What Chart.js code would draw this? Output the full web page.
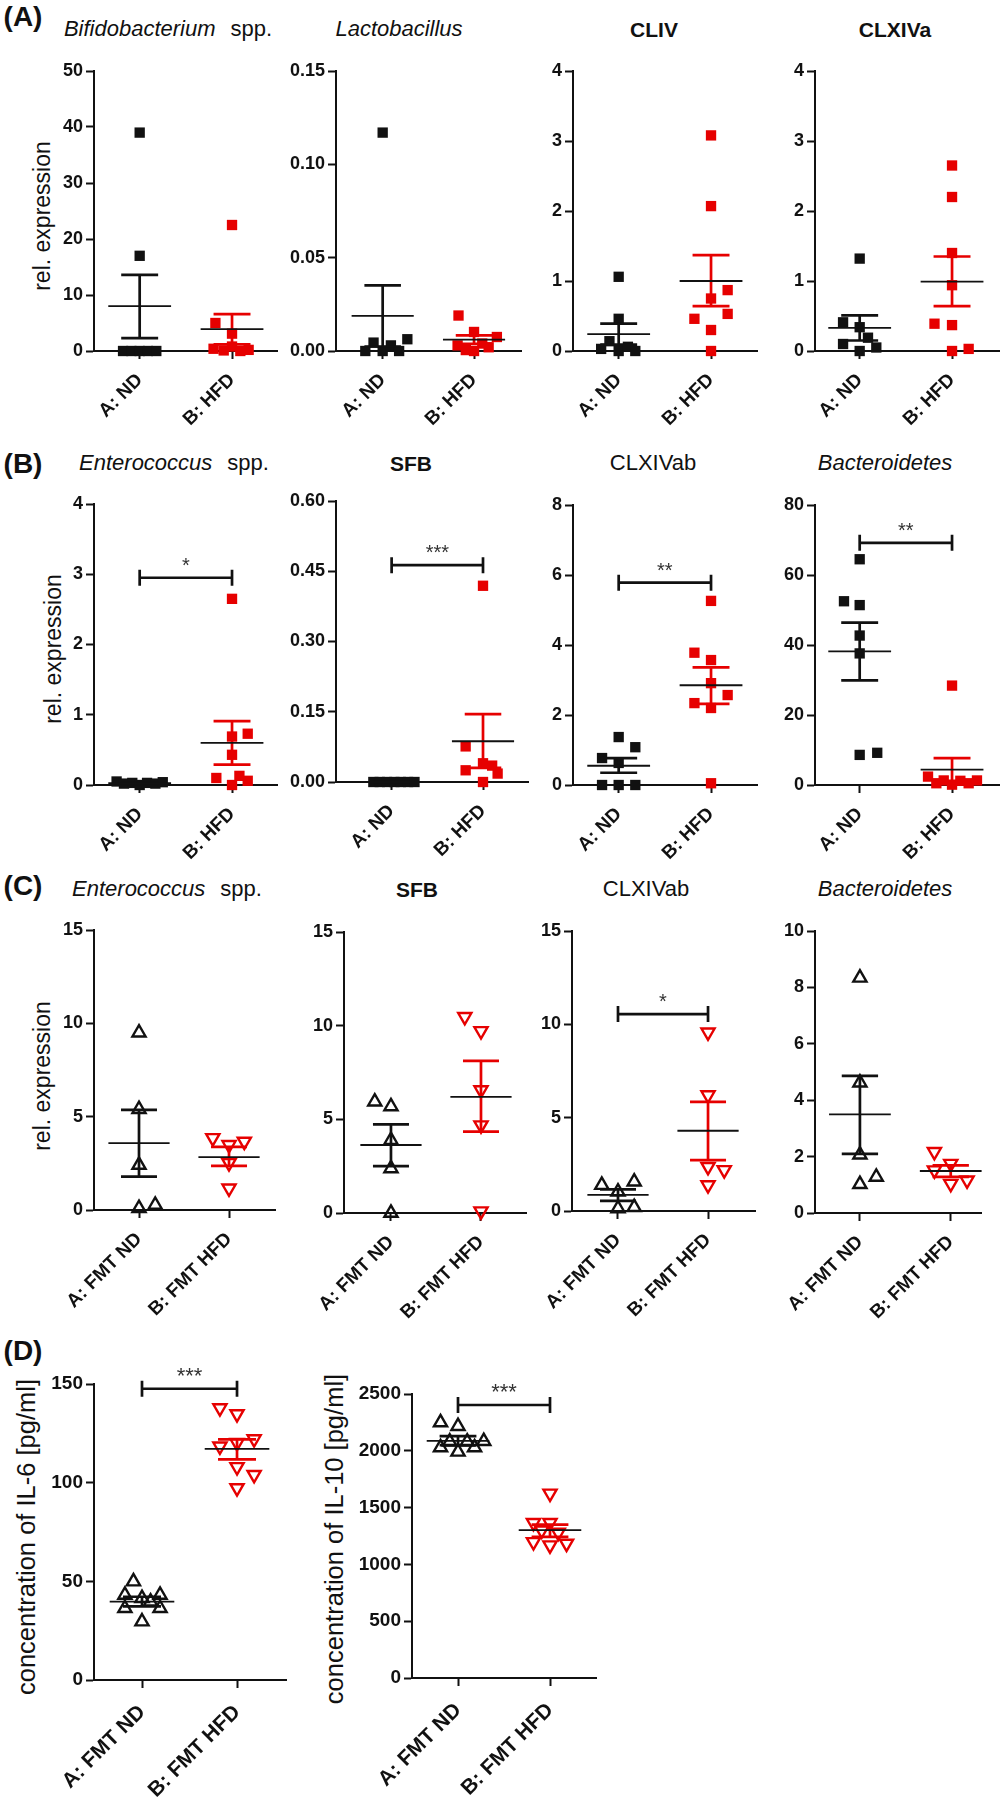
<!DOCTYPE html>
<html>
<head>
<meta charset="utf-8">
<script src="https://cdn.jsdelivr.net/npm/chart.js@4.4.1/dist/chart.umd.min.js"></script>
<style>
  body { margin: 0; background: #fff; }
  #fig { position: relative; width: 1004px; height: 1800px; overflow: hidden;
         font-family: "Liberation Sans", Arial, sans-serif; color: #111; }
  #fig canvas { position: absolute; }
  .lbl { position: absolute; transform: translate(-50%, -50%); white-space: nowrap; line-height: 1; }
  .ytl { position: absolute; transform: translate(-50%, -50%) rotate(-90deg); white-space: nowrap;
         line-height: 1; font-size: 23px; }
  .ytl.big { font-size: 25.5px; }
  .panel { font-size: 28px; font-weight: bold; }
  .ttl { font-size: 22px; }
  .ttl.b { font-size: 21px; font-weight: bold; }
  .spp { margin-left: 15px; }
</style>
</head>
<body>
<div id="fig">
  <div class="lbl panel" style="left:23px;top:17px">(A)</div>
  <div class="lbl panel" style="left:23px;top:464px">(B)</div>
  <div class="lbl panel" style="left:23px;top:886px">(C)</div>
  <div class="lbl panel" style="left:23px;top:1351px">(D)</div>

  <div class="lbl ttl" style="left:168px;top:29px"><i>Bifidobacterium</i><span class="spp">spp.</span></div>
  <div class="lbl ttl" style="left:399px;top:29px"><i>Lactobacillus</i></div>
  <div class="lbl ttl b" style="left:654px;top:29px">CLIV</div>
  <div class="lbl ttl b" style="left:895px;top:29px">CLXIVa</div>

  <div class="lbl ttl" style="left:174px;top:463px"><i>Enterococcus</i><span class="spp">spp.</span></div>
  <div class="lbl ttl b" style="left:411px;top:463px">SFB</div>
  <div class="lbl ttl" style="left:653px;top:463px">CLXIVab</div>
  <div class="lbl ttl" style="left:885px;top:463px"><i>Bacteroidetes</i></div>

  <div class="lbl ttl" style="left:167px;top:889px"><i>Enterococcus</i><span class="spp">spp.</span></div>
  <div class="lbl ttl b" style="left:417px;top:889px">SFB</div>
  <div class="lbl ttl" style="left:646px;top:889px">CLXIVab</div>
  <div class="lbl ttl" style="left:885px;top:889px"><i>Bacteroidetes</i></div>

  <div class="ytl" style="left:42px;top:216px">rel. expression</div>
  <div class="ytl" style="left:53px;top:649px">rel. expression</div>
  <div class="ytl" style="left:42px;top:1076px">rel. expression</div>
  <div class="ytl big" style="left:27px;top:1537px">concentration of IL-6 [pg/ml]</div>
  <div class="ytl big" style="left:335px;top:1539px">concentration of IL-10 [pg/ml]</div>
</div>

<script>
/* ---------- group labels ---------- */
const dietGroups = ["A: ND", "B: HFD"];
const fmtGroups = ["A: FMT ND", "B: FMT HFD"];

/* ---------- (A) ---------- */
const bifidoND = [39, 17, 0, 0, 0, 0, 0];
const bifidoNDx = [0, 0, -0.18, -0.09, 0, 0.09, 0.18];
const bifidoHFD = [22.5, 5, 3.1, 0.8, 0.4, 0.2, 0.1, 0];
const bifidoHFDx = [0, -0.18, 0, 0, -0.2, 0.18, -0.09, 0.09];
const bifidoMean = [8.0, 3.9];
const bifidoHi = [13.6, 6.6];
const bifidoLo = [2.3, 1.2];
const bifidoTicks = ["0", "10", "20", "30", "40", "50"];

const lactoND = [0.117, 0.0045, 0, 0, 0.003, 0, 0.0063];
const lactoNDx = [0, -0.1, -0.19, 0, 0.09, 0.18, 0.27];
const lactoHFD = [0.019, 0.0102, 0.0075, 0.004, 0.003, 0.002, 0.0005, 0];
const lactoHFDx = [-0.17, 0, 0.25, 0.09, -0.18, 0.16, -0.09, 0];
const lactoMean = [0.0188, 0.0061];
const lactoHi = [0.0352, 0.0084];
const lactoLo = [0.0024, 0.0038];
const lactoTicks = ["0.00", "0.05", "0.10", "0.15"];

const clivND = [1.06, 0.46, 0.14, 0.03, 0, 0.06, 0];
const clivNDx = [0, 0, -0.1, -0.19, 0, 0.1, 0.18];
const clivHFD = [3.08, 2.07, 0.87, 0.75, 0.53, 0.46, 0.3, 0];
const clivHFDx = [0, 0, 0.18, 0, 0.18, -0.18, 0, 0];
const clivMean = [0.24, 1.0];
const clivHi = [0.39, 1.37];
const clivLo = [0.09, 0.64];
const clivTicks = ["0", "1", "2", "3", "4"];

const clxivaND = [1.32, 0.41, 0.34, 0.19, 0.1, 0.05, 0];
const clxivaNDx = [0, -0.18, 0, 0.09, -0.18, 0.18, 0];
const clxivaHFD = [2.65, 2.2, 1.4, 0.94, 0.39, 0.37, 0, 0.03];
const clxivaHFDx = [0, 0, 0, 0, -0.19, 0, 0, 0.18];
const clxivaMean = [0.33, 0.99];
const clxivaHi = [0.51, 1.35];
const clxivaLo = [0.15, 0.64];
const clxivaTicks = ["0", "1", "2", "3", "4"];

/* ---------- (B) ---------- */
const enteroBND = [0.05, 0.02, 0.03, 0, 0.03, 0.02, 0.04];
const enteroBNDx = [-0.25, -0.17, -0.08, 0, 0.08, 0.17, 0.25];
const enteroBHFD = [2.65, 0.73, 0.69, 0.43, 0.13, 0.1, 0.06, 0];
const enteroBHFDx = [0, 0.17, 0, 0, 0.08, -0.17, 0.17, 0];
const enteroBMean = [0.025, 0.6];
const enteroBHi = [0.035, 0.91];
const enteroBLo = [0.015, 0.29];
const enteroBTicks = ["0", "1", "2", "3", "4"];
const enteroBSig = [2.95, "*"];

const sfbBND = [0, 0, 0, 0, 0, 0, 0];
const sfbBNDx = [-0.2, -0.13, -0.05, 0.03, 0.1, 0.18, 0.25];
const sfbBHFD = [0.419, 0.076, 0.04, 0.035, 0.025, 0.018, 0];
const sfbBHFDx = [0, -0.19, 0, 0.1, -0.19, 0.16, 0];
const sfbBMean = [0, 0.087];
const sfbBHi = [0, 0.145];
const sfbBLo = [0, 0.03];
const sfbBTicks = ["0.00", "0.15", "0.30", "0.45", "0.60"];
const sfbBSig = [0.463, "***"];

const clxivabBND = [1.37, 1.08, 0.77, 0.63, 0, 0, 0];
const clxivabBNDx = [0, 0.18, -0.18, 0, -0.18, 0, 0.18];
const clxivabBHFD = [5.26, 3.78, 3.57, 2.91, 2.57, 2.34, 2.2, 0.05];
const clxivabBHFDx = [0, -0.18, 0, 0, 0.18, -0.18, 0, 0];
const clxivabBMean = [0.55, 2.85];
const clxivabBHi = [0.77, 3.36];
const clxivabBLo = [0.35, 2.32];
const clxivabBTicks = ["0", "2", "4", "6", "8"];
const clxivabBSig = [5.78, "**"];

const bactBND = [64.5, 52.5, 51.4, 42.7, 37.6, 8.6, 9.2];
const bactBNDx = [0, -0.17, 0, 0, 0, 0, 0.19];
const bactBHFD = [28.4, 2.4, 0.5, 1.3, 0.1, 1.2, 0.5, 1.3];
const bactBHFDx = [0, -0.26, -0.17, -0.09, 0, 0.09, 0.18, 0.27];
const bactBMean = [38.2, 4.4];
const bactBHi = [46.4, 7.7];
const bactBLo = [29.9, 1.0];
const bactBTicks = ["0", "20", "40", "60", "80"];
const bactBSig = [69.2, "**"];

/* ---------- (C) ---------- */
const enteroCND = [9.5, 5.4, 2.41, 0.1, 0.27];
const enteroCNDx = [0, 0, 0, 0, 0.18];
const enteroCHFD = [3.86, 3.67, 3.49, 2.52, 1.16];
const enteroCHFDx = [-0.18, 0.17, 0, 0, 0];
const enteroCMean = [3.58, 2.83];
const enteroCHi = [5.36, 3.38];
const enteroCLo = [1.79, 2.36];
const enteroCTicks = ["0", "5", "10", "15"];

const sfbCND = [5.94, 5.69, 3.89, 2.38, 0];
const sfbCNDx = [-0.18, 0, 0, 0, 0];
const sfbCHFD = [10.47, 9.72, 6.56, 4.69, 0.1];
const sfbCHFDx = [-0.18, 0, 0, 0, 0];
const sfbCMean = [3.63, 6.2];
const sfbCHi = [4.73, 8.12];
const sfbCLo = [2.5, 4.34];
const sfbCTicks = ["0", "5", "10", "15"];

const clxivabCND = [1.39, 1.57, 1.03, 0.14, 0.2];
const clxivabCNDx = [-0.18, 0.18, 0, 0, 0.18];
const clxivabCHFD = [9.57, 6.21, 2.37, 2.2, 1.39];
const clxivabCHFDx = [0, 0, 0, 0.18, 0];
const clxivabCMean = [0.86, 4.3];
const clxivabCHi = [1.16, 5.85];
const clxivabCLo = [0.54, 2.73];
const clxivabCTicks = ["0", "5", "10", "15"];
const clxivabCSig = [10.55, "*"];

const bactCND = [8.34, 4.62, 2.07, 1.02, 1.28];
const bactCNDx = [0, 0, 0, 0, 0.18];
const bactCHFD = [2.17, 1.75, 1.52, 1.04, 1.16];
const bactCHFDx = [-0.18, 0, -0.18, 0, 0.18];
const bactCMean = [3.5, 1.49];
const bactCHi = [4.86, 1.69];
const bactCLo = [2.1, 1.28];
const bactCTicks = ["0", "2", "4", "6", "8", "10"];

/* ---------- (D) ---------- */
const il6ND = [49.9, 43.1, 43.1, 41.4, 39.7, 36.4, 36.4, 29.6];
const il6NDx = [-0.09, -0.18, 0.19, 0, 0.09, -0.18, 0.19, 0];
const il6HFD = [137.8, 134.8, 122.1, 120.2, 118.4, 108, 104, 97.3];
const il6HFDx = [-0.18, 0, 0.18, 0, -0.18, 0, 0.18, 0];
const il6Mean = [39.7, 117.1];
const il6Hi = [42.2, 121.9];
const il6Lo = [37.3, 111.8];
const il6Ticks = ["0", "50", "100", "150"];
const il6Sig = [147.6, "***"];

const il10ND = [2249, 2217, 2085, 2080, 2080, 2030, 2030, 1991];
const il10NDx = [-0.19, 0, 0.28, -0.09, 0.1, -0.19, 0.18, 0];
const il10HFD = [1625, 1366, 1366, 1300, 1280, 1198, 1169, 1184];
const il10HFDx = [0, -0.18, 0, -0.09, 0.09, -0.18, 0, 0.18];
const il10Mean = [2088, 1301];
const il10Hi = [2130, 1351];
const il10Lo = [2050, 1242];
const il10Ticks = ["0", "500", "1000", "1500", "2000", "2500"];
const il10Sig = [2403, "***"];

/* ---------- look ---------- */
const BLK = "#111111";
const RED = "#e60000";
const FONT = '"Liberation Sans", Arial, sans-serif';
const YW = 100, PAD_T = 40, PAD_R = 6;
const MEAN_HALF = 0.34, CAP_HALF = 0.2;

Chart.defaults.font.family = FONT;
Chart.defaults.color = BLK;

/* where each plot sits on the page (pixel of y axis, end of x axis,
   top and zero of y axis, centre of both groups) */
const charts = [
  { groups: dietGroups, nd: bifidoND, ndx: bifidoNDx, hfd: bifidoHFD, hfdx: bifidoHFDx, mean: bifidoMean, hi: bifidoHi, lo: bifidoLo, ticks: bifidoTicks,
    box: [94, 279, 71, 351, 140, 233] },
  { groups: dietGroups, nd: lactoND, ndx: lactoNDx, hfd: lactoHFD, hfdx: lactoHFDx, mean: lactoMean, hi: lactoHi, lo: lactoLo, ticks: lactoTicks,
    box: [336, 523, 71, 351, 383, 475] },
  { groups: dietGroups, nd: clivND, ndx: clivNDx, hfd: clivHFD, hfdx: clivHFDx, mean: clivMean, hi: clivHi, lo: clivLo, ticks: clivTicks,
    box: [573, 759, 71, 351, 619, 712] },
  { groups: dietGroups, nd: clxivaND, ndx: clxivaNDx, hfd: clxivaHFD, hfdx: clxivaHFDx, mean: clxivaMean, hi: clxivaHi, lo: clxivaLo, ticks: clxivaTicks,
    box: [815, 1001, 71, 351, 860, 953] },

  { groups: dietGroups, nd: enteroBND, ndx: enteroBNDx, hfd: enteroBHFD, hfdx: enteroBHFDx, mean: enteroBMean, hi: enteroBHi, lo: enteroBLo, ticks: enteroBTicks, sig: enteroBSig,
    box: [94, 279, 504, 785, 140, 233] },
  { groups: dietGroups, nd: sfbBND, ndx: sfbBNDx, hfd: sfbBHFD, hfdx: sfbBHFDx, mean: sfbBMean, hi: sfbBHi, lo: sfbBLo, ticks: sfbBTicks, sig: sfbBSig,
    box: [336, 530, 501, 782, 392, 484] },
  { groups: dietGroups, nd: clxivabBND, ndx: clxivabBNDx, hfd: clxivabBHFD, hfdx: clxivabBHFDx, mean: clxivabBMean, hi: clxivabBHi, lo: clxivabBLo, ticks: clxivabBTicks, sig: clxivabBSig,
    box: [573, 759, 505, 785, 619, 712] },
  { groups: dietGroups, nd: bactBND, ndx: bactBNDx, hfd: bactBHFD, hfdx: bactBHFDx, mean: bactBMean, hi: bactBHi, lo: bactBLo, ticks: bactBTicks, sig: bactBSig,
    box: [815, 1001, 505, 785, 860, 953] },

  { groups: fmtGroups, tri: true, nd: enteroCND, ndx: enteroCNDx, hfd: enteroCHFD, hfdx: enteroCHFDx, mean: enteroCMean, hi: enteroCHi, lo: enteroCLo, ticks: enteroCTicks,
    box: [94, 279, 930, 1210, 140, 232] },
  { groups: fmtGroups, tri: true, nd: sfbCND, ndx: sfbCNDx, hfd: sfbCHFD, hfdx: sfbCHFDx, mean: sfbCMean, hi: sfbCHi, lo: sfbCLo, ticks: sfbCTicks,
    box: [344, 530, 932, 1213, 392, 484] },
  { groups: fmtGroups, tri: true, nd: clxivabCND, ndx: clxivabCNDx, hfd: clxivabCHFD, hfdx: clxivabCHFDx, mean: clxivabCMean, hi: clxivabCHi, lo: clxivabCLo, ticks: clxivabCTicks, sig: clxivabCSig,
    box: [572, 759, 931, 1211, 619, 711] },
  { groups: fmtGroups, tri: true, nd: bactCND, ndx: bactCNDx, hfd: bactCHFD, hfdx: bactCHFDx, mean: bactCMean, hi: bactCHi, lo: bactCLo, ticks: bactCTicks,
    box: [815, 985, 931, 1213, 861, 954] },

  { groups: fmtGroups, tri: true, big: true, nd: il6ND, ndx: il6NDx, hfd: il6HFD, hfdx: il6HFDx, mean: il6Mean, hi: il6Hi, lo: il6Lo, ticks: il6Ticks, sig: il6Sig,
    box: [94, 290, 1384, 1680, 143, 240] },
  { groups: fmtGroups, tri: true, big: true, nd: il10ND, ndx: il10NDx, hfd: il10HFD, hfdx: il10HFDx, mean: il10Mean, hi: il10Hi, lo: il10Lo, ticks: il10Ticks, sig: il10Sig,
    box: [412, 600, 1394, 1678, 459, 553] },
];

/* significance bracket + stars, placed through the chart scales */
const bracketPlugin = {
  id: "bracket",
  afterDatasetsDraw(chart, args, opts) {
    if (!opts.sig) return;
    const { ctx } = chart;
    const xs = chart.scales.x, ys = chart.scales.y;
    const x0 = xs.getPixelForValue(0), x1 = xs.getPixelForValue(1);
    const yp = ys.getPixelForValue(opts.sig[0]);
    ctx.save();
    ctx.strokeStyle = BLK;
    ctx.lineWidth = 2.7;
    ctx.beginPath();
    ctx.moveTo(x0, yp); ctx.lineTo(x1, yp);
    ctx.moveTo(x0, yp - 8); ctx.lineTo(x0, yp + 8);
    ctx.moveTo(x1, yp - 8); ctx.lineTo(x1, yp + 8);
    ctx.stroke();
    ctx.fillStyle = "#333";
    ctx.font = (opts.big ? 22 : 20) + "px " + FONT;
    ctx.textAlign = "center";
    ctx.textBaseline = "alphabetic";
    ctx.fillText(opts.sig[1], (x0 + x1) / 2, yp - 6);
    ctx.restore();
  },
};

function points(vals, offs, g) {
  return vals.map((v, i) => ({ x: g + offs[i], y: v }));
}

function meanLines(mean) {
  return [
    { x: -MEAN_HALF, y: mean[0] }, { x: MEAN_HALF, y: mean[0] }, { x: 0.5, y: null },
    { x: 1 - MEAN_HALF, y: mean[1] }, { x: 1 + MEAN_HALF, y: mean[1] },
  ];
}

function semBars(g, hi, lo) {
  return [
    { x: g - CAP_HALF, y: hi[g] }, { x: g + CAP_HALF, y: hi[g] }, { x: g, y: null },
    { x: g, y: hi[g] }, { x: g, y: lo[g] }, { x: g, y: null },
    { x: g - CAP_HALF, y: lo[g] }, { x: g + CAP_HALF, y: lo[g] },
  ];
}

function lineSet(data, color, width, order) {
  return { type: "scatter", data, showLine: true, spanGaps: false, borderColor: color, borderWidth: width,
           pointRadius: 0, tension: 0, clip: false, order };
}

function markerSet(data, color, c, flip) {
  const base = { type: "scatter", data, clip: false, order: 2 };
  if (c.tri) {
    return Object.assign(base, { pointStyle: "triangle", pointRadius: 7.6, pointRotation: flip ? 180 : 0,
      pointBackgroundColor: "rgba(0,0,0,0)", pointBorderColor: color, pointBorderWidth: 2.4 });
  }
  return Object.assign(base, { pointStyle: "rect", pointRadius: 7.3, pointBackgroundColor: color,
    pointBorderColor: color, pointBorderWidth: 0 });
}

const fig = document.getElementById("fig");

charts.forEach((c) => {
  const [axisX, right, top, zero, ndPx, hfdPx] = c.box;
  const xh = c.big ? 150 : 110;
  const plotW = right - axisX, plotH = zero - top;
  const cv = document.createElement("canvas");
  cv.width = YW + plotW + PAD_R;
  cv.height = PAD_T + plotH + xh;
  cv.style.left = (axisX - YW) + "px";
  cv.style.top = (top - PAD_T) + "px";
  fig.appendChild(cv);

  const unit = hfdPx - ndPx;
  const xMin = -(ndPx - axisX) / unit;
  const xMax = (right - ndPx) / unit;
  const tickVals = c.ticks.map(Number);
  const tickSize = c.big ? 19 : 18;
  const labSize = c.big ? 21 : 19;

  new Chart(cv, {
    type: "scatter",
    data: {
      datasets: [
        lineSet(meanLines(c.mean), BLK, 1.8, 0),
        lineSet(semBars(0, c.hi, c.lo), BLK, 2.7, 1),
        lineSet(semBars(1, c.hi, c.lo), RED, 2.7, 1),
        markerSet(points(c.nd, c.ndx, 0), BLK, c, false),
        markerSet(points(c.hfd, c.hfdx, 1), RED, c, true),
      ],
    },
    options: {
      responsive: false,
      devicePixelRatio: 1,
      animation: false,
      events: [],
      layout: { padding: { top: PAD_T, right: PAD_R, left: 0, bottom: 0 } },
      plugins: {
        legend: { display: false },
        tooltip: { enabled: false },
        bracket: { sig: c.sig, big: c.big },
      },
      scales: {
        x: {
          type: "linear",
          min: xMin,
          max: xMax,
          afterBuildTicks: (s) => { s.ticks = [{ value: 0 }, { value: 1 }]; },
          afterFit: (s) => { s.height = xh; s.paddingLeft = 0; s.paddingRight = 0; },
          ticks: {
            autoSkip: false, minRotation: 45, maxRotation: 45, padding: c.big ? 12 : 10,
            color: BLK, font: { size: labSize, weight: "bold" },
            callback: (v) => c.groups[v],
          },
          grid: { drawOnChartArea: false, drawTicks: true, tickLength: 8, tickWidth: 2, color: BLK },
          border: { display: true, color: BLK, width: 2 },
        },
        y: {
          type: "linear",
          min: 0,
          max: tickVals[tickVals.length - 1],
          afterBuildTicks: (s) => { s.ticks = tickVals.map((v) => ({ value: v })); },
          afterFit: (s) => { s.width = YW; s.paddingTop = 0; s.paddingBottom = 0; },
          ticks: {
            padding: 3, color: BLK, font: { size: tickSize, weight: "bold" },
            callback: (v, i) => c.ticks[i],
          },
          grid: { drawOnChartArea: false, drawTicks: true, tickLength: 8, tickWidth: 2, color: BLK },
          border: { display: true, color: BLK, width: 2 },
        },
      },
    },
    plugins: [bracketPlugin],
  });
});
</script>
</body>
</html>
